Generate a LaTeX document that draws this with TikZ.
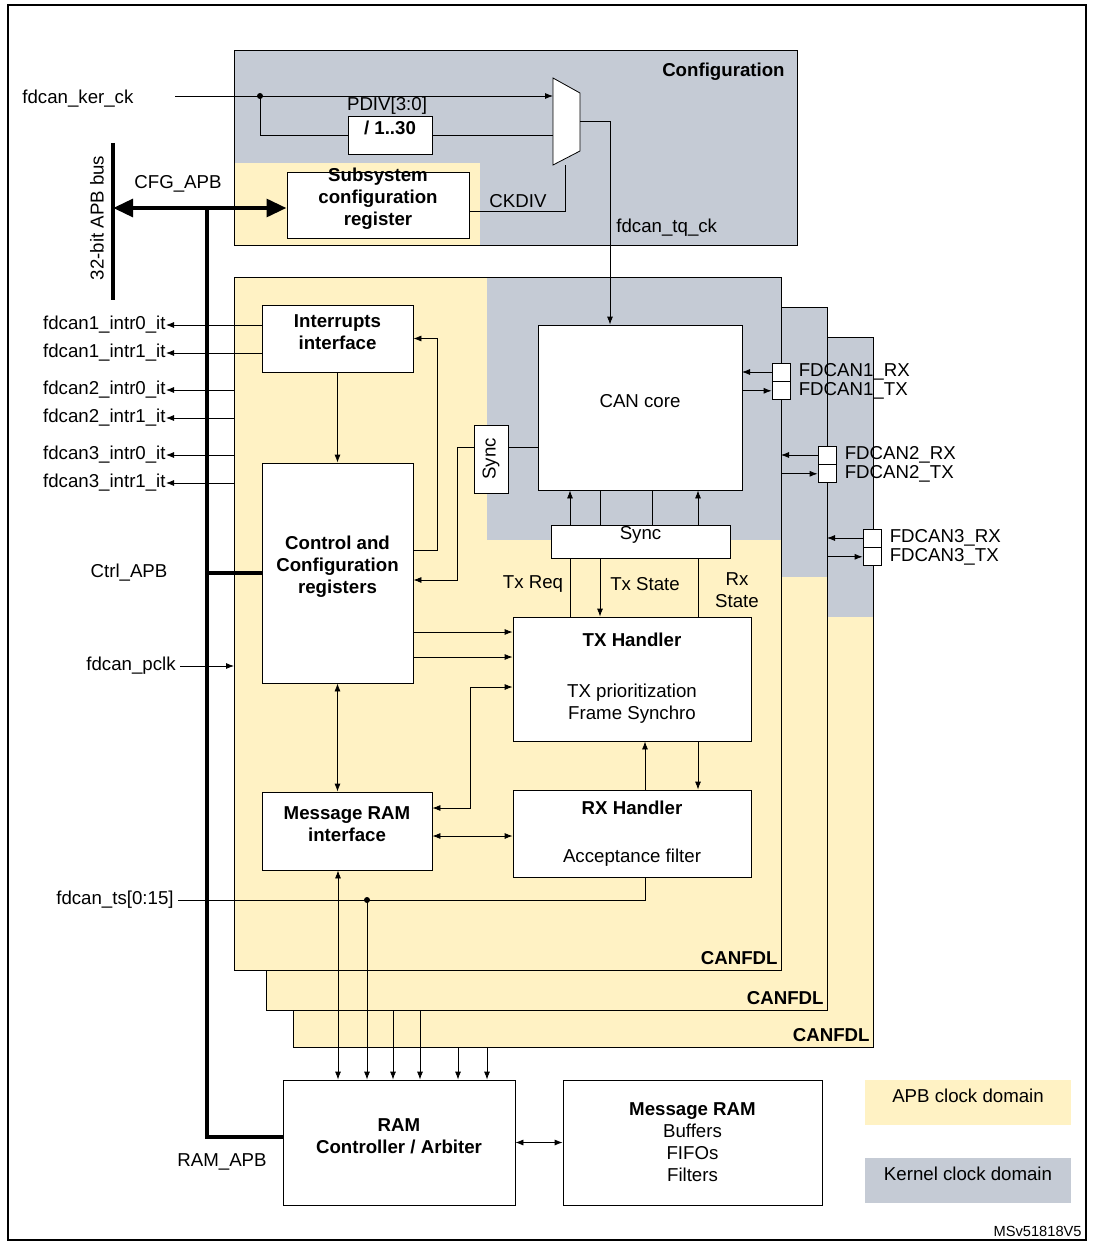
\documentclass[tikz,border=0pt]{standalone}
\usepackage{fontspec}
\setmainfont{Liberation Sans}
\usetikzlibrary{arrows.meta,fit,positioning}
\definecolor{apbyellow}{HTML}{FFF2C4}
\definecolor{kergray}{HTML}{C5CBD5}
\newcommand\bodyfont{\fontsize{14}{16.5}\selectfont}
\tikzset{
  block/.style={draw, fill=white, inner sep=0pt, align=center, font=\bodyfont\bfseries},
  lbl/.style={inner sep=0pt},
  pinbox/.style={draw, fill=white, minimum size=13.5pt, inner sep=0pt},
  bus/.style={line width=3.5pt},
  bustip/.style={{Triangle[length=15pt,width=13pt]}-{Triangle[length=15pt,width=13pt]}},
  >={Latex[length=6pt,width=4.5pt]}
}
\begin{document}
\begin{tikzpicture}[x=0.75pt, y=-0.75pt, font=\bodyfont, line width=0.6pt]
  \useasboundingbox (0,0) rectangle (1092,1245);
  \draw[line width=0.8pt] (8,5) rectangle (1086,1240);
  % configuration domain
  \fill[kergray]   (234,50)  rectangle (797,245);
  \fill[apbyellow] (234,163) rectangle (480,245);
  \draw (234,50) rectangle (797,245);
  \node[lbl, font=\bodyfont\bfseries, anchor=north east] at (785,63) {Configuration};
  % CANFDL stack
  \foreach \xa/\ya/\xb/\yb/\yg in {293/337/873/1047/617, 266/307/827/1010/577, 234/277/781/970/540}{
    \fill[apbyellow] (\xa,\ya) rectangle (\xb,\yb);
    \fill[kergray]   (487,\ya) rectangle (\xb,\yg);
    \draw (\xa,\ya) rectangle (\xb,\yb);
    \node[lbl, font=\bodyfont\bfseries, anchor=south east] at (\xb-3,\yb-5) {CANFDL};
  }
  % blocks
  \node[block, fit={(348,116) (432,154)}] (div) {/ 1..30};
  \node[block, fit={(287,172) (469,238)}] (subreg) {Subsystem\\configuration\\register};
  \node[block, fit={(262,305) (413,372)}] (intr) {Interrupts\\interface};
  \node[block, fit={(262,463) (413,683)}] (ctrl) {Control and\\Configuration\\registers};
  \node[block, fit={(474,425) (508,493)}, font=\bodyfont] (sync1) {};
  \node[rotate=90] at (sync1.center) {Sync};
  \node[block, fit={(538,325) (742,490)}, font=\bodyfont] (core) {CAN core};
  \node[block, fit={(551,525) (730,558)}, font=\bodyfont] (syncbar) {Sync};
  \node[block, fit={(513,617) (751,741)}] (tx) {};
  \node[font=\bodyfont\bfseries] at (632,640) {TX Handler};
  \node[align=center] at (632,704) {TX prioritization\\Frame Synchro};
  \node[block, fit={(513,790) (751,877)}] (rx) {};
  \node[font=\bodyfont\bfseries] at (632,808) {RX Handler};
  \node at (632,858) {Acceptance filter};
  \node[block, fit={(262,792) (432,870)}] (mri) {Message RAM\\interface};
  \node[block, fit={(283,1080) (515,1205)}] (ramc) {RAM\\Controller / Arbiter};
  \node[block, fit={(563,1080) (822,1205)}] (mram) {};
  \node[align=center] at (mram.center) {\textbf{Message RAM}\\Buffers\\FIFOs\\Filters};
  % multiplexer
  \draw[fill=white] (553,78) -- (580,93) -- (580,151) -- (553,165) -- cycle;
  \coordinate (muxin) at (553,96);
  \coordinate (muxout) at (580,121);
  % clocks
  \node[lbl, anchor=west] (kerck) at (22,99) {fdcan\_ker\_ck};
  \coordinate (kdot) at (260,96);
  \draw[->] (175,96) -- (muxin);
  \fill (kdot) circle (3);
  \draw (kdot) |- (div.west);
  \draw (div.east) -- (553,135);
  \node[lbl] at (387,106) {PDIV[3:0]};
  \coordinate (ckd) at (565,211);
  \draw (ckd -| subreg.east) -- (ckd) -- (565,165);
  \node[lbl, anchor=south] at (518,208) {CKDIV};
  \coordinate (tq) at (610,121);
  \draw[->] (muxout) -- (tq) -- (tq |- core.north);
  \node[lbl, anchor=west] at (616,228) {fdcan\_tq\_ck};
  % APB buses
  \draw[bus] (113,143) -- (113,300);
  \node[lbl, rotate=90] at (97,218) {32-bit APB bus};
  \draw[bus, bustip] (113,208) -- (subreg.west |- 0,208);
  \node[lbl] at (178,184) {CFG\_APB};
  \coordinate (ramapb) at (207,1137);
  \draw[bus] (207,208) -- (ramapb) -- (ramapb -| ramc.west);
  \draw[bus] (207,573) -- (ctrl.west);
  \node[lbl] at (129,573) {Ctrl\_APB};
  \node[lbl] at (222,1162) {RAM\_APB};
  % interrupt lines
  \foreach \xs/\y/\t [count=\i] in {262/325/fdcan1\_intr0\_it, 262/353/fdcan1\_intr1\_it,
      234/390/fdcan2\_intr0\_it, 234/418/fdcan2\_intr1\_it, 234/455/fdcan3\_intr0\_it, 234/483/fdcan3\_intr1\_it}{
    \node[lbl, anchor=east] (it\i) at (166,\y) {\t};
    \draw[->] (\xs,\y) -- (it\i.east);
  }
  \draw[->] (intr.south) -- (ctrl.north);
  \coordinate (cr1) at (437,550);
  \draw[->] (cr1 -| ctrl.east) -- (cr1) |- (intr.east);
  \coordinate (sy) at (457,447);
  \coordinate (cr2) at (457,580);
  \draw[->] (sync1.west |- sy) -- (sy) -- (cr2) -- (cr2 -| ctrl.east);
  \draw (sync1.east |- sy) -- (sy -| core.west);
  % core and sync bar
  \foreach \x in {570,698} \draw[->] (syncbar.north -| \x,0) -- (core.south -| \x,0);
  \foreach \x in {600,652} \draw (syncbar.north -| \x,0) -- (core.south -| \x,0);
  \draw (syncbar.south -| 570,0) -- (tx.north -| 570,0);
  \draw[->] (syncbar.south -| 600,0) -- (tx.north -| 600,0);
  \draw (syncbar.south -| 698,0) -- (tx.north -| 698,0);
  \node[lbl] at (533,584) {Tx Req};
  \node[lbl] at (645,584) {Tx State};
  \node[lbl, align=center] at (737,590) {Rx\\State};
  % pins
  \foreach \i/\xp/\y/\xe in {1/781/372/742, 2/827/455/781, 3/872/538/827}{
    \node[pinbox] (rx\i) at (\xp,\y) {};
    \node[pinbox, below=0pt of rx\i] (tx\i) {};
    \draw[->] (rx\i.west) -- (\xe,\y);
    \draw[->] (tx\i.west -| \xe,0) -- (tx\i.west);
    \node[lbl, anchor=west] at ([xshift=6pt]rx\i.east) {FDCAN\i\_RX};
    \node[lbl, anchor=west] at ([xshift=6pt]tx\i.east) {FDCAN\i\_TX};
  }
  % handlers
  \draw[->] (ctrl.east |- 0,632) -- (tx.west |- 0,632);
  \draw[->] (ctrl.east |- 0,657) -- (tx.west |- 0,657);
  \coordinate (mt) at (470,687);
  \draw[<->] (mri.east |- 0,808) -- (470,808) -- (mt) -- (mt -| tx.west);
  \draw[<->] (mri.east |- 0,836) -- (rx.west |- 0,836);
  \draw[<->] (ctrl.south) -- (ctrl.south |- mri.north);
  \draw[->] (rx.north -| 645,0) -- (tx.south -| 645,0);
  \draw[->] (tx.south -| 698,0) -- (rx.north -| 698,0);
  % pclk and timestamp
  \node[lbl, anchor=east] (pclk) at (176,666) {fdcan\_pclk};
  \draw[->] ([xshift=3pt]pclk.east) -- (234,666);
  \node[lbl, anchor=east] (ts) at (174,900) {fdcan\_ts[0:15]};
  \coordinate (tsdot) at (367,900);
  \draw ([xshift=3pt]ts.east) -- (645,900) -- (rx.south -| 645,0);
  \fill (tsdot) circle (3);
  \draw[->] (tsdot) -- (ramc.north -| tsdot);
  % RAM accesses
  \draw[<->] (mri.south -| 338,0) -- (ramc.north -| 338,0);
  \foreach \x/\y in {393/1010, 420/1010, 458/1047, 487/1047}
    \draw[->] (\x,\y) -- (ramc.north -| \x,0);
  \draw[<->] (ramc.east) -- (mram.west);
  % legend
  \node[fill=apbyellow, fit={(865,1080) (1071,1125)}, inner sep=0pt] (lgapb) {APB clock domain};
  \node[fill=kergray, fit={(865,1158) (1071,1203)}, inner sep=0pt] (lgker) {Kernel clock domain};
  \node[lbl, anchor=south east, font=\fontsize{11}{13}\selectfont] at (1082,1237) {MSv51818V5};
\end{tikzpicture}
\end{document}
